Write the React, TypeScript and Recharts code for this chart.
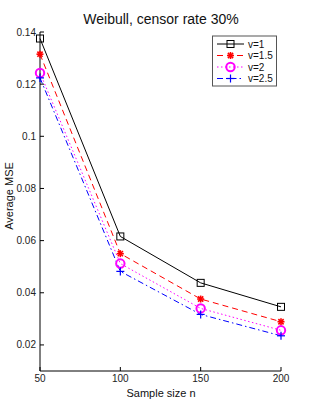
import React from 'react';
import { LineChart, Line, XAxis, YAxis, Customized } from 'recharts';

const sampleSizes = [50, 100, 150, 200];
const mseV1 = [0.1375, 0.0616, 0.0438, 0.0346];
const mseV15 = [0.1315, 0.055, 0.0376, 0.0289];
const mseV2 = [0.1243, 0.0512, 0.034, 0.0256];
const mseV25 = [0.1224, 0.0482, 0.0317, 0.0235];
const yTicks = [0.02, 0.04, 0.06, 0.08, 0.1, 0.12, 0.14];
const xTicks = [50, 100, 150, 200];
const seriesNames = ['v=1', 'v=1.5', 'v=2', 'v=2.5'];

const data = sampleSizes.map((n, i) => ({
  n,
  v1: mseV1[i],
  v15: mseV15[i],
  v2: mseV2[i],
  v25: mseV25[i],
}));

const FONT = '"Liberation Sans", Arial, Helvetica, sans-serif';

const Square = ({ cx, cy }: any) => (
  <rect x={cx - 3.5} y={cy - 3.5} width={7} height={7} fill="none" stroke="#000" strokeWidth={1} />
);
const Star = ({ cx, cy }: any) => (
  <g stroke="#ff0000" strokeWidth={1.6}>
    <line x1={cx - 3.5} y1={cy} x2={cx + 3.5} y2={cy} />
    <line x1={cx} y1={cy - 3.5} x2={cx} y2={cy + 3.5} />
    <line x1={cx - 2.6} y1={cy - 2.6} x2={cx + 2.6} y2={cy + 2.6} />
    <line x1={cx - 2.6} y1={cy + 2.6} x2={cx + 2.6} y2={cy - 2.6} />
  </g>
);
const Circ = ({ cx, cy }: any) => (
  <circle cx={cx} cy={cy} r={4.2} fill="none" stroke="#ff00ff" strokeWidth={2} />
);
const Plus = ({ cx, cy }: any) => (
  <g stroke="#0000ff" strokeWidth={1.2}>
    <line x1={cx - 4} y1={cy} x2={cx + 4} y2={cy} />
    <line x1={cx} y1={cy - 4} x2={cx} y2={cy + 4} />
  </g>
);

const styles = [
  { key: 'v1', color: '#000000', dash: undefined, Marker: Square },
  { key: 'v15', color: '#ff0000', dash: '6 4', Marker: Star },
  { key: 'v2', color: '#ff00ff', dash: '1.5 2.5', Marker: Circ },
  { key: 'v25', color: '#0000ff', dash: '6 3 1.5 3', Marker: Plus },
];

const Decor = () => {
  const lx = 212.5, ly = 36, lw = 64, lh = 50;
  return (
    <g>
      <text x={161} y={24} textAnchor="middle" fontSize={14} fontFamily={FONT} fill="#111">
        Weibull, censor rate 30%
      </text>
      <text x={161} y={397} textAnchor="middle" fontSize={11} fontFamily={FONT} fill="#111">
        Sample size n
      </text>
      <text x={13} y={196} textAnchor="middle" fontSize={11} fontFamily={FONT} fill="#111" transform="rotate(-90 13 196)">
        Average MSE
      </text>
      <rect x={lx} y={ly} width={lw} height={lh} fill="#fff" stroke="#555" strokeWidth={1} />
      {styles.map((s, i) => {
        const y = 44 + i * 11.5;
        const M = s.Marker;
        return (
          <g key={s.key}>
            <line x1={217} y1={y} x2={244} y2={y} stroke={s.color} strokeWidth={1} strokeDasharray={s.dash} />
            <M cx={230.5} cy={y} />
            <text x={248} y={y + 3.5} fontSize={10} fontFamily={FONT} fill="#111">
              {seriesNames[i]}
            </text>
          </g>
        );
      })}
    </g>
  );
};

export default function App() {
  return (
    <div style={{ position: 'absolute', left: 0, top: 0, width: 311, height: 418, background: '#fff' }}>
      <LineChart width={311} height={418} data={data} margin={{ top: 32, right: 30, bottom: 17, left: 0 }}>
        <XAxis
          xAxisId="b"
          dataKey="n"
          type="number"
          domain={[50, 200]}
          ticks={xTicks}
          height={30}
          tickSize={-4}
          tickMargin={8}
          axisLine={{ stroke: '#000' }}
          tickLine={{ stroke: '#000' }}
          tick={{ fontSize: 10, fontFamily: FONT, fill: '#222' }}
        />
        <XAxis
          xAxisId="t"
          orientation="top"
          dataKey="n"
          type="number"
          domain={[50, 200]}
          ticks={xTicks}
          height={0}
          tickSize={-4}
          axisLine={{ stroke: '#000' }}
          tickLine={{ stroke: '#000' }}
          tick={false}
        />
        <YAxis
          yAxisId="l"
          type="number"
          domain={[0.01, 0.14]}
          ticks={yTicks}
          width={40}
          tickSize={-4}
          tickMargin={8}
          axisLine={{ stroke: '#000' }}
          tickLine={{ stroke: '#000' }}
          tick={{ fontSize: 10, fontFamily: FONT, fill: '#222' }}
        />
        <YAxis
          yAxisId="r"
          orientation="right"
          type="number"
          domain={[0.01, 0.14]}
          ticks={yTicks}
          width={0}
          tickSize={-4}
          axisLine={{ stroke: '#000' }}
          tickLine={{ stroke: '#000' }}
          tick={false}
        />
        {styles.map((s) => {
          const M = s.Marker;
          return (
            <Line
              key={s.key}
              xAxisId="b"
              yAxisId="l"
              dataKey={s.key}
              stroke={s.color}
              strokeWidth={1}
              strokeDasharray={s.dash}
              isAnimationActive={false}
              dot={(p: any) => <M key={p.index} cx={p.cx} cy={p.cy} />}
              activeDot={false}
            />
          );
        })}
        <Customized component={Decor} />
      </LineChart>
    </div>
  );
}
